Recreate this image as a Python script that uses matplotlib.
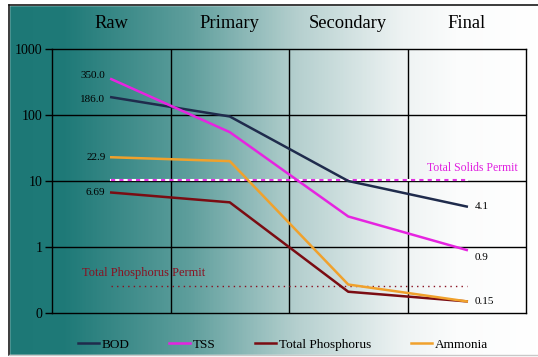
import numpy as np
import matplotlib
matplotlib.use("Agg")
import matplotlib.pyplot as plt
from matplotlib.colors import LinearSegmentedColormap
from matplotlib.ticker import FixedLocator, NullLocator

categories = ["Raw", "Primary", "Secondary", "Final"]
bod = [186.0, 95.0, 10.0, 4.1]
tss = [350.0, 55.0, 2.9, 0.9]
phosphorus = [6.69, 4.75, 0.21, 0.15]
ammonia = [22.9, 20.0, 0.27, 0.15]
solids_permit = 10.4
phosphorus_permit = 0.26
start_labels = ["350.0", "186.0", "22.9", "6.69"]
end_labels = ["4.1", "0.9", "0.15"]
ytick_vals = [0.1, 1, 10, 100, 1000]
ytick_labels = ["0", "1", "10", "100", "1000"]

serif = ["Liberation Serif", "DejaVu Serif"]
plt.rcParams["font.family"] = serif

W, H = 538, 357
fig = plt.figure(figsize=(W / 100, H / 100), dpi=100)

# background gradient
bg = fig.add_axes([0, 0, 1, 1])
bg.set_axis_off()
cmap = LinearSegmentedColormap.from_list(
    "bg", [(0.0, "#1d7876"), (0.12, "#1f7a78"), (0.35, "#5e9e9c"),
           (0.55, "#b4cfce"), (0.75, "#eef3f3"), (0.85, "#fbfcfc"), (1.0, "#ffffff")])
grad = np.linspace(0, 1, 400).reshape(1, -1)
bg.imshow(grad, aspect="auto", cmap=cmap, extent=[0, 1, 0, 1])
bg.set_xlim(0, 1)
bg.set_ylim(0, 1)
# white margins and frame
bg.fill_between([0, 9 / W], 0, 1, color="white", zorder=2)
bg.fill_between([0, 1], 1 - 5 / H, 1, color="white", zorder=2)
bg.fill_between([0, 1], 0, 2 / H, color="white", zorder=2)
bg.plot([9 / W, 9 / W], [2 / H, 1 - 5 / H], color="#1a1a1a", lw=1.2, zorder=3)
bg.plot([9 / W, 1], [1 - 5 / H, 1 - 5 / H], color="#1a1a1a", lw=1.2, zorder=3)
bg.plot([9 / W, 1], [2.5 / H, 2.5 / H], color="#c8c8c8", lw=1.0, zorder=3)

ax = fig.add_axes([52 / W, 1 - 313 / H, (526 - 52) / W, (313 - 49) / H])
ax.patch.set_alpha(0)
ax.set_yscale("log")
ax.set_ylim(0.1, 1000)
ax.set_xlim(-0.5, len(categories) - 0.5)

ax.yaxis.set_major_locator(FixedLocator(ytick_vals))
ax.yaxis.set_minor_locator(NullLocator())
ax.set_yticklabels(ytick_labels)
ax.tick_params(axis="y", length=5, width=1, labelsize=10, pad=2, color="black")

x = np.arange(len(categories))
ax.set_xticks(x)
ax.set_xticklabels(categories, fontsize=13.3)
ax.tick_params(axis="x", top=True, bottom=False, labeltop=True, labelbottom=False,
               length=0, pad=12)

for v in ytick_vals[1:-1]:
    ax.axhline(v, color="black", lw=1, zorder=1)
for b in [0.5, 1.5, 2.5]:
    ax.axvline(b, color="black", lw=1, zorder=1)
for s in ax.spines.values():
    s.set_color("black")
    s.set_linewidth(1)

c_bod = "#1f2b4c"
c_tss = "#e624e0"
c_tp = "#7a0c12"
c_am = "#f0a12c"

ax.plot(x, bod, color=c_bod, lw=1.8, label="BOD", zorder=4)
ax.plot(x, tss, color=c_tss, lw=1.8, label="TSS", zorder=4)
ax.plot(x, phosphorus, color=c_tp, lw=1.8, label="Total Phosphorus", zorder=4)
ax.plot(x, ammonia, color=c_am, lw=1.8, label="Ammonia", zorder=4)

# permit lines
ax.plot([x[0], x[-1]], [solids_permit] * 2, color="white", lw=1.5, zorder=3)
ax.plot([x[0], x[-1]], [solids_permit] * 2, color="#e030e0", lw=1.5,
        linestyle=(0, (2, 2)), zorder=3)
ax.plot([x[0], x[-1]], [phosphorus_permit] * 2, color="#8a1020", lw=1.0,
        linestyle=(0, (1, 3)), zorder=3)
ax.text(3.5 - 0.07, solids_permit * 1.22, "Total Solids Permit", color="#e020e0",
        fontsize=8.5, ha="right", va="bottom")
ax.text(-0.25, phosphorus_permit * 1.28, "Total Phosphorus Permit", color="#8a1020",
        fontsize=9, ha="left", va="bottom")

# data labels
starts = [tss[0], bod[0], ammonia[0], phosphorus[0]]
offs = [1.12, 0.92, 1.0, 1.0]
for val, lab, o in zip(starts, start_labels, offs):
    ax.text(x[0] - 0.05, val * o, lab, fontsize=8, ha="right", va="center")
ends = [bod[-1], tss[-1], ammonia[-1]]
offs_e = [1.0, 0.76, 1.0]
for val, lab, o in zip(ends, end_labels, offs_e):
    ax.text(x[-1] + 0.07, val * o, lab, fontsize=8, ha="left", va="center")

leg = fig.legend(loc="lower left", bbox_to_anchor=(72 / W, 0.0), ncol=4, frameon=False,
                 fontsize=9.5, handlelength=1.6, handletextpad=0.2, columnspacing=3.0,
                 borderaxespad=0.05)

fig.savefig("out.png", dpi=100)
